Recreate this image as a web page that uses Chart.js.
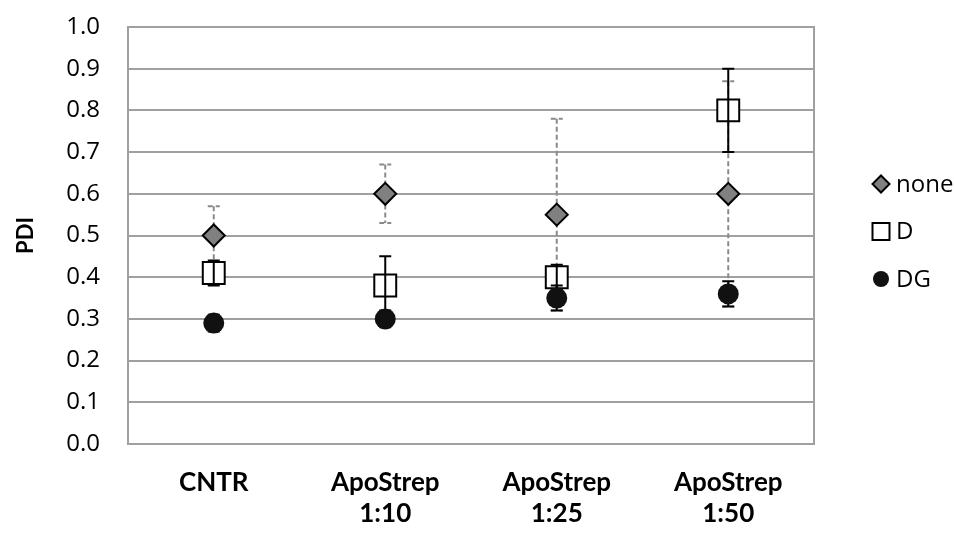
<!DOCTYPE html>
<html><head><meta charset="utf-8">
<script src="https://cdn.jsdelivr.net/npm/chart.js@4"></script>
<style>html,body{margin:0;padding:0;background:#fff}#wrap{width:954px;height:534px;position:relative}</style>
</head><body><div id="wrap"><canvas id="c" width="954" height="534"></canvas></div>
<script>
// ---- data ----
const categories = ['CNTR', ['ApoStrep', '1:10'], ['ApoStrep', '1:25'], ['ApoStrep', '1:50']];
const seriesNames = ['none', 'D', 'DG'];
const noneValues = [0.50, 0.60, 0.55, 0.60];
const noneErrors = [0.07, 0.07, 0.23, 0.27];
const dValues = [0.41, 0.38, 0.40, 0.80];
const dErrors = [0.03, 0.07, 0.03, 0.10];
const dgValues = [0.29, 0.30, 0.35, 0.36];
const dgErrors = [0.02, 0.02, 0.03, 0.03];
const yTickLabels = ['0.0', '0.1', '0.2', '0.3', '0.4', '0.5', '0.6', '0.7', '0.8', '0.9', '1.0'];
const yAxisTitle = 'PDI';

const GRID = '#a0a0a0';
const TICK_FONT = { family: '"Open Sans", sans-serif', size: 24 };
const CAT_FONT = { family: 'Lato, sans-serif', size: 26, weight: 'bold', lineHeight: 1.2 };

function drawErrors(chart, idx) {
  const ds = chart.data.datasets[idx];
  const meta = chart.getDatasetMeta(idx);
  if (!ds.errorBars || meta.hidden) return;
  const xs = chart.scales.x, ys = chart.scales.y, ctx = chart.ctx, st = ds.errorBars;
  ctx.save();
  ctx.strokeStyle = st.color; ctx.lineWidth = st.width; ctx.setLineDash(st.dash || []);
  ds.data.forEach((v, i) => {
    const e = ds.errors[i];
    if (!e) return;
    const x = xs.getPixelForValue(i);
    const y1 = ys.getPixelForValue(v + e), y2 = ys.getPixelForValue(v - e);
    ctx.beginPath();
    ctx.moveTo(x, y1); ctx.lineTo(x, y2);
    ctx.moveTo(x - st.cap, y1); ctx.lineTo(x + st.cap, y1);
    ctx.moveTo(x - st.cap, y2); ctx.lineTo(x + st.cap, y2);
    ctx.stroke();
  });
  ctx.restore();
}

const errorBarPlugin = {
  id: 'errorBars',
  beforeDatasetDraw(chart, args) {
    const ds = chart.data.datasets[args.index];
    if (ds.errorBars && ds.errorBars.under) drawErrors(chart, args.index);
  },
  afterDatasetDraw(chart, args) {
    const ds = chart.data.datasets[args.index];
    if (ds.errorBars && !ds.errorBars.under) drawErrors(chart, args.index);
  }
};

const framePlugin = {
  id: 'frame',
  beforeDatasetsDraw(chart) {
    const a = chart.chartArea, ctx = chart.ctx;
    ctx.save();
    ctx.strokeStyle = GRID; ctx.lineWidth = 2;
    ctx.beginPath(); ctx.moveTo(a.right, a.top - 1); ctx.lineTo(a.right, a.bottom + 1); ctx.stroke();
    ctx.restore();
  }
};

function shape(ctx, style, x, y, r) {
  ctx.beginPath();
  if (style === 'rectRot') {
    ctx.moveTo(x, y - r); ctx.lineTo(x + r, y); ctx.lineTo(x, y + r); ctx.lineTo(x - r, y); ctx.closePath();
  } else if (style === 'rect') {
    ctx.rect(x - r, y - r, 2 * r, 2 * r);
  } else {
    ctx.arc(x, y, r, 0, Math.PI * 2);
  }
}

const sideLegendPlugin = {
  id: 'sideLegend',
  afterDraw(chart) {
    const ctx = chart.ctx, a = chart.chartArea;
    const items = chart.data.datasets;
    const cx = a.right + 67;
    const step = 47.5;
    const cy0 = (a.top + a.bottom) / 2 - 4 - step;
    ctx.save();
    items.forEach((ds, i) => {
      const y = cy0 + i * step;
      const lg = ds.legendMarker;
      ctx.fillStyle = ds.pointBackgroundColor;
      ctx.strokeStyle = ds.pointBorderColor;
      ctx.lineWidth = lg.border;
      shape(ctx, lg.style, cx, y, lg.r);
      ctx.fill();
      if (lg.border > 0) ctx.stroke();
      ctx.fillStyle = '#000';
      ctx.font = TICK_FONT.size + 'px ' + TICK_FONT.family;
      ctx.textBaseline = 'middle';
      ctx.textAlign = 'left';
      ctx.fillText(ds.label, cx + 15, y + 1);
    });
    ctx.restore();
  }
};

new Chart(document.getElementById('c'), {
  type: 'line',
  data: {
    labels: categories,
    datasets: [
      {
        label: seriesNames[0], data: noneValues, errors: noneErrors, order: 3,
        showLine: false, pointStyle: 'rectRot', pointRadius: 11, pointHoverRadius: 11,
        pointBackgroundColor: '#808080', pointBorderColor: '#000', pointBorderWidth: 2,
        errorBars: { color: '#8a8a8a', width: 2, dash: [5, 3], cap: 6, under: true },
        legendMarker: { style: 'rectRot', r: 8.5, border: 2 }
      },
      {
        label: seriesNames[1], data: dValues, errors: dErrors, order: 2,
        showLine: false, pointStyle: 'rect', pointRadius: 15.5, pointHoverRadius: 15.5,
        pointBackgroundColor: '#ffffff', pointBorderColor: '#000', pointBorderWidth: 2,
        errorBars: { color: '#000', width: 2, dash: [], cap: 6, under: false },
        legendMarker: { style: 'rect', r: 8.5, border: 2 }
      },
      {
        label: seriesNames[2], data: dgValues, errors: dgErrors, order: 1,
        showLine: false, pointStyle: 'circle', pointRadius: 10.5, pointHoverRadius: 10.5,
        pointBackgroundColor: '#111111', pointBorderColor: '#111111', pointBorderWidth: 0,
        errorBars: { color: '#000', width: 2, dash: [], cap: 6, under: true },
        legendMarker: { style: 'circle', r: 8, border: 0 }
      }
    ]
  },
  options: {
    responsive: false,
    animation: false,
    devicePixelRatio: 1,
    layout: { padding: { left: 0, right: 140, top: 27, bottom: 0 } },
    plugins: { legend: { display: false }, tooltip: { enabled: false } },
    scales: {
      x: {
        offset: true,
        grid: { display: false, drawTicks: false },
        border: { display: true, color: GRID, width: 2 },
        ticks: { color: '#000', font: CAT_FONT, padding: 23, maxRotation: 0, autoSkip: false },
        afterFit(s) { s.height = 90; s.paddingLeft = 0; s.paddingRight = 0; }
      },
      y: {
        min: 0, max: 1,
        grid: { color: GRID, lineWidth: 2, drawTicks: false },
        border: { display: true, color: GRID, width: 2 },
        ticks: {
          stepSize: 0.1, color: '#000', font: TICK_FONT, padding: 28,
          callback: (v, i) => yTickLabels[i]
        },
        title: {
          display: true, text: yAxisTitle, color: '#000',
          font: { family: 'Lato, sans-serif', size: 22, weight: 'bold' },
          padding: { top: 13, bottom: 0 }
        },
        afterFit(s) { s.width = 128; s.paddingTop = 0; s.paddingBottom = 0; }
      }
    }
  },
  plugins: [errorBarPlugin, framePlugin, sideLegendPlugin]
});
</script>
</body></html>
